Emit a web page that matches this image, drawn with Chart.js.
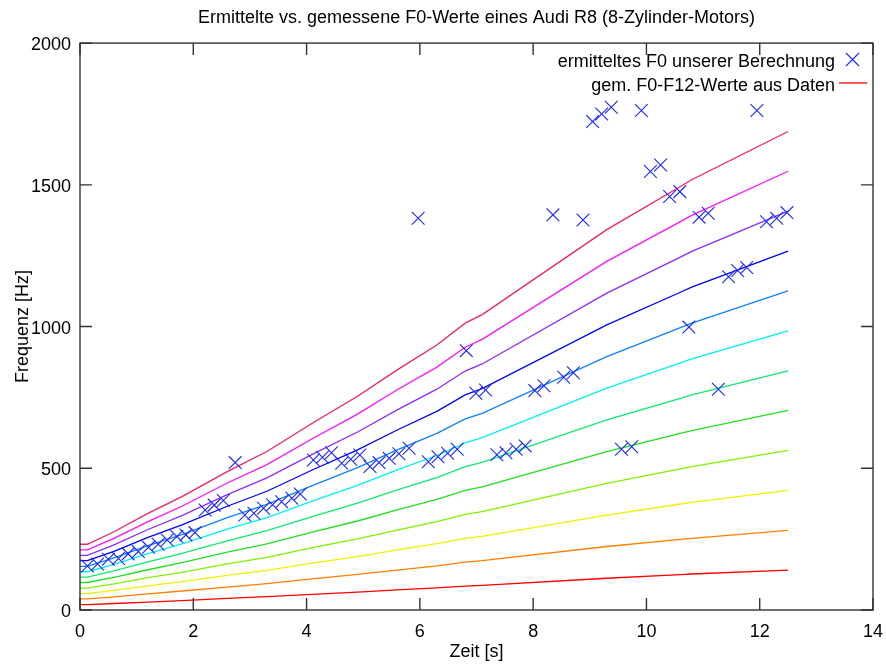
<!DOCTYPE html>
<html>
<head>
<meta charset="utf-8">
<script src="https://cdn.jsdelivr.net/npm/chart.js@4/dist/chart.umd.min.js"></script>
<style>
  body { margin: 0; background: #fff; }
  canvas { display: block; }
</style>
</head>
<body>
<canvas id="myChart" width="886" height="664"></canvas>
<script>
// measured harmonics F1..F12 (Hz) over time (s)
const times = [0, 0.13, 0.6, 1.2, 1.8, 2.6, 3.3, 4.1, 4.9, 5.6, 6.3, 6.8, 7.1, 9.3, 10.6, 10.8, 12.5];
const f1  = [19, 19, 23, 28, 33, 41, 47, 55, 63, 71, 78, 84, 87, 112, 125, 127, 141];
const f2  = [39, 39, 46, 57, 67, 81, 93, 110, 126, 141, 156, 169, 174, 224, 249, 253, 281];
const f3  = [58, 58, 69, 85, 100, 122, 140, 165, 188, 212, 234, 253, 260, 335, 374, 380, 422];
const f4  = [77, 77, 92, 114, 133, 163, 186, 220, 251, 282, 312, 337, 347, 447, 498, 506, 563];
const f5  = [97, 97, 115, 142, 167, 204, 233, 275, 314, 353, 390, 422, 434, 559, 623, 633, 704];
const f6  = [116, 116, 138, 170, 200, 244, 280, 329, 377, 424, 467, 506, 521, 671, 747, 759, 844];
const f7  = [135, 135, 161, 199, 233, 285, 326, 384, 440, 494, 545, 590, 608, 783, 872, 886, 985];
const f8  = [154, 154, 184, 227, 266, 326, 373, 439, 502, 565, 623, 674, 694, 894, 996, 1012, 1126];
const f9  = [174, 174, 207, 256, 300, 366, 419, 494, 565, 635, 701, 759, 781, 1006, 1121, 1139, 1266];
const f10 = [193, 193, 230, 284, 333, 407, 466, 549, 628, 706, 779, 843, 868, 1118, 1245, 1265, 1407];
const f11 = [212, 212, 253, 312, 366, 448, 513, 604, 691, 777, 857, 927, 955, 1230, 1370, 1392, 1548];
const f12 = [232, 232, 276, 341, 400, 488, 559, 659, 754, 847, 935, 1012, 1042, 1342, 1494, 1518, 1688];
const harmonics = [f1, f2, f3, f4, f5, f6, f7, f8, f9, f10, f11, f12];
const lineColors = ['#ff0000', '#ff8000', '#f0f000', '#80f000', '#20e020', '#10e870',
                    '#00f0f0', '#1080ff', '#0000ff', '#8a2cff', '#ff10ff', '#f0206a'];

// our computed F0 estimates
const estTimes = [0.13, 0.31, 0.50, 0.68, 0.85, 1.03, 1.21, 1.38, 1.54, 1.71, 1.87, 2.03,
  2.21, 2.37, 2.53, 2.74, 2.91, 3.07, 3.24, 3.40, 3.56, 3.74, 3.89,
  4.12, 4.28, 4.44, 4.62, 4.78, 4.94, 5.12, 5.28, 5.46, 5.63, 5.81, 5.97,
  6.15, 6.32, 6.49, 6.66, 6.82, 6.99, 7.16, 7.36, 7.52, 7.70, 7.86, 8.03, 8.19, 8.35,
  8.54, 8.71, 8.88, 9.05, 9.21, 9.38, 9.56, 9.74, 9.91, 10.07, 10.25, 10.41, 10.59, 10.75,
  10.93, 11.09, 11.27, 11.45, 11.61, 11.77, 11.95, 12.12, 12.30, 12.48];
const estFreqs = [155, 162, 179, 182, 198, 206, 221, 232, 247, 259, 265, 273,
  353, 370, 386, 520, 335, 341, 359, 371, 382, 394, 409,
  529, 539, 555, 518, 532, 547, 506, 520, 535, 551, 571, 1382,
  523, 541, 553, 567, 915, 765, 776, 548, 555, 567, 579, 774, 791, 1394,
  821, 837, 1376, 1723, 1750, 1774, 567, 576, 1762, 1547, 1570, 1459, 1476, 998,
  1386, 1400, 779, 1176, 1198, 1208, 1762, 1370, 1382, 1402];

const xTicks = [0, 2, 4, 6, 8, 10, 12, 14];
const yTicks = [0, 500, 1000, 1500, 2000];

const labelEst = 'ermitteltes F0 unserer Berechnung';
const labelGem = 'gem. F0-F12-Werte aus Daten';
const FONT = "'Liberation Sans', Arial, sans-serif";
const markColor = '#1a28ff';

const datasets = [];
datasets.push({
    label: labelEst,
    data: estTimes.map((t, i) => ({ x: t, y: estFreqs[i] })),
    showLine: false,
    pointStyle: 'crossRot',
    pointRadius: 9,
    pointBorderWidth: 1.1,
    borderColor: markColor,
    backgroundColor: markColor
});
harmonics.forEach((vals, k) => {
    datasets.push({
        label: k === 0 ? labelGem : 'F' + (k + 1),
        data: times.map((t, j) => ({ x: t, y: vals[j] })),
        showLine: true,
        pointRadius: 0,
        borderWidth: 1.3,
        borderColor: lineColors[k],
        backgroundColor: lineColors[k]
    });
});

// frame, inward ticks on all four sides and the legend box
const framePlugin = {
    id: 'frame',
    afterDraw(chart) {
        const ctx = chart.ctx;
        const a = chart.chartArea;
        const xs = chart.scales.x;
        const ys = chart.scales.y;
        ctx.save();
        ctx.strokeStyle = '#333';
        ctx.lineWidth = 1.4;
        ctx.beginPath();
        xTicks.forEach(v => {
            const px = xs.getPixelForValue(v);
            ctx.moveTo(px, a.bottom); ctx.lineTo(px, a.bottom - 12);
            ctx.moveTo(px, a.top); ctx.lineTo(px, a.top + 12);
        });
        yTicks.forEach(v => {
            const py = ys.getPixelForValue(v);
            ctx.moveTo(a.left, py); ctx.lineTo(a.left + 12, py);
            ctx.moveTo(a.right, py); ctx.lineTo(a.right - 12, py);
        });
        ctx.stroke();
        ctx.strokeRect(a.left, a.top, a.right - a.left, a.bottom - a.top);

        // legend
        ctx.font = '18px ' + FONT;
        ctx.fillStyle = '#000';
        ctx.textAlign = 'right';
        ctx.textBaseline = 'middle';
        ctx.fillText(labelEst, 835, 62);
        ctx.fillText(labelGem, 835, 86);
        ctx.strokeStyle = markColor;
        ctx.lineWidth = 1.1;
        ctx.beginPath();
        ctx.moveTo(846, 53); ctx.lineTo(859, 66);
        ctx.moveTo(859, 53); ctx.lineTo(846, 66);
        ctx.stroke();
        ctx.strokeStyle = lineColors[0];
        ctx.lineWidth = 1.3;
        ctx.beginPath();
        ctx.moveTo(839, 83); ctx.lineTo(867, 83);
        ctx.stroke();
        ctx.restore();
    }
};

new Chart(document.getElementById('myChart'), {
    type: 'scatter',
    data: { datasets: datasets },
    options: {
        responsive: false,
        animation: false,
        devicePixelRatio: 1,
        layout: { padding: { left: 0, right: 13, top: 0, bottom: 0 } },
        plugins: {
            legend: { display: false },
            tooltip: { enabled: false },
            title: {
                display: true,
                fullSize: false,
                text: 'Ermittelte vs. gemessene F0-Werte eines Audi R8 (8-Zylinder-Motors)',
                color: '#000',
                font: { family: FONT, size: 18, weight: 'normal' },
                padding: { top: 7, bottom: 14.5 }
            }
        },
        scales: {
            x: {
                type: 'linear',
                min: 0, max: 14,
                afterFit: s => { s.height = 54; s.paddingLeft = 0; s.paddingRight = 0; },
                afterBuildTicks: s => { s.ticks = xTicks.map(v => ({ value: v })); },
                grid: { display: false, drawTicks: false },
                border: { display: false },
                ticks: { color: '#000', padding: 11, font: { family: FONT, size: 18 } },
                title: {
                    display: true, text: 'Zeit [s]', color: '#000',
                    font: { family: FONT, size: 18 },
                    padding: { top: 0, bottom: 1.5 }
                }
            },
            y: {
                type: 'linear',
                min: 0, max: 2000,
                afterFit: s => { s.width = 80; s.paddingTop = 0; s.paddingBottom = 0; },
                afterBuildTicks: s => { s.ticks = yTicks.map(v => ({ value: v })); },
                grid: { display: false, drawTicks: false },
                border: { display: false },
                ticks: {
                    color: '#000', padding: 9, labelOffset: 2,
                    font: { family: FONT, size: 18 },
                    callback: v => String(v)
                },
                title: {
                    display: true, text: 'Frequenz [Hz]', color: '#000',
                    font: { family: FONT, size: 18 },
                    padding: { top: 12, bottom: 0 }
                }
            }
        }
    },
    plugins: [framePlugin]
});
</script>
</body>
</html>
